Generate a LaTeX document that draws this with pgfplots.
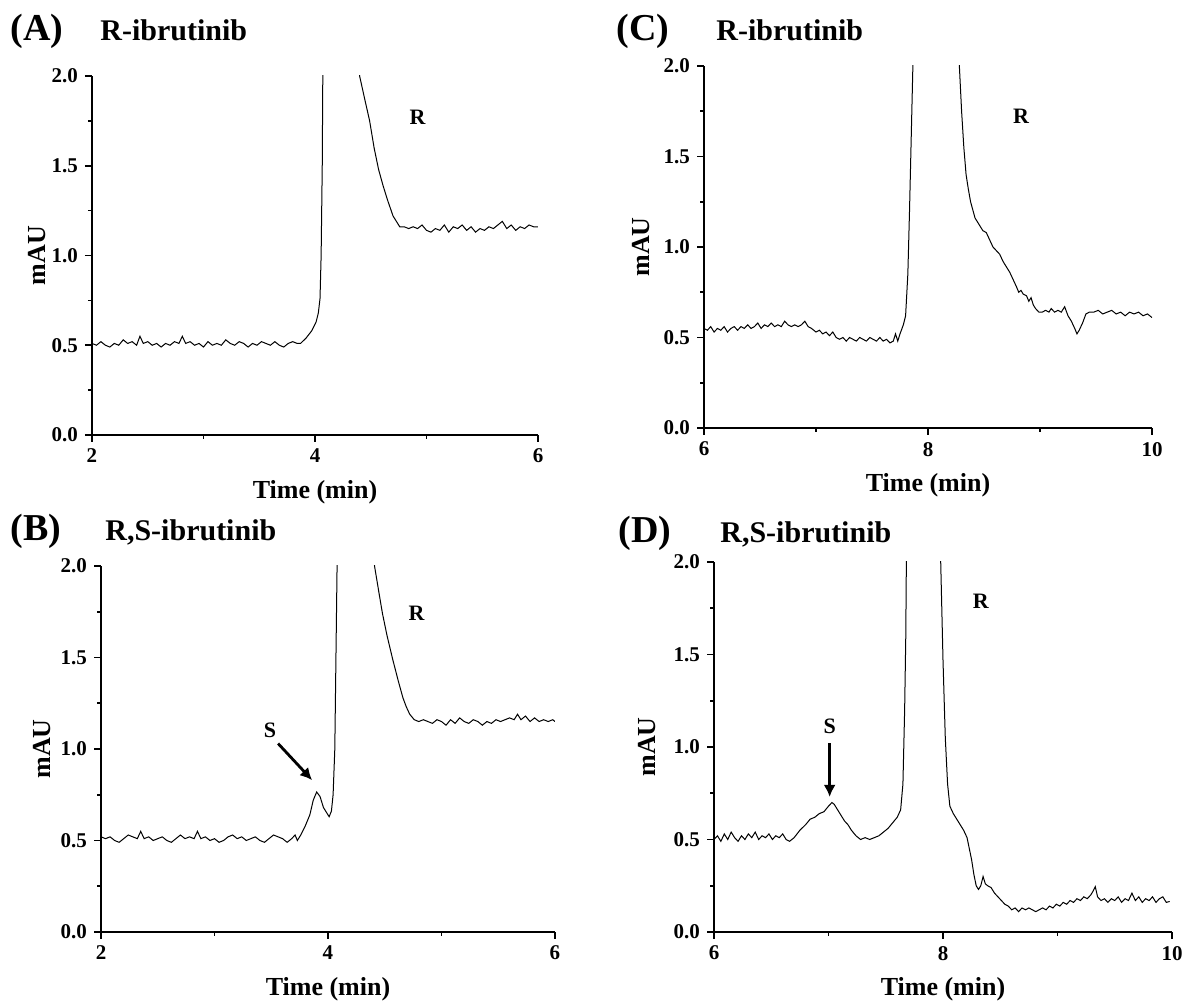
\documentclass[border=0pt]{standalone}
\usepackage{fontspec}
\setmainfont{Liberation Serif}
\usepackage{pgfplots}
\pgfplotsset{compat=1.18}
\usetikzlibrary{arrows.meta}

% shared look of the four chromatogram panels
\pgfplotsset{
  chrom/.style={
    scale only axis,
    anchor=south west,
    axis lines=left,
    axis line style={-, line width=0.8pt},
    tick align=outside,
    every tick/.style={black, line width=0.8pt},
    major tick length=3.5pt,
    minor tick length=2pt,
    minor x tick num=1,
    minor y tick num=1,
    ymin=0, ymax=2,
    ytick={0,0.5,1,1.5,2},
    /pgf/number format/assume math mode=true,
    tick label style={font=\bfseries\fontsize{10.5}{12}\selectfont},
    yticklabel style={/pgf/number format/fixed, /pgf/number format/fixed zerofill,
      /pgf/number format/precision=1},
    xlabel={Time (min)},
    ylabel={mAU},
    label style={font=\bfseries\fontsize{13}{15}\selectfont},
    xlabel style={at={(axis description cs:0.5,0)}, anchor=base, yshift=-32pt},
  },
  trace/.style={black, line width=0.5pt, no marks},
}
\newcommand{\paneltag}{\bfseries\fontsize{19}{21}\selectfont}
\newcommand{\paneltitle}{\bfseries\fontsize{15}{17}\selectfont}
\newcommand{\peaklbl}{\bfseries\fontsize{11}{13}\selectfont}

\begin{document}
\begin{tikzpicture}
\useasboundingbox (0,0) rectangle (592pt,502.5pt);

% ---------------- (A) ----------------
\begin{axis}[chrom, at={(46pt,285pt)}, width=223pt, height=179.5pt,
  xmin=2, xmax=6, xtick={2,4,6},
  ylabel style={at={(axis description cs:-0.105,0.5)}, anchor=base}]
\addplot[trace] table {
2.00 0.51
2.04 0.50
2.08 0.52
2.12 0.50
2.16 0.49
2.20 0.51
2.24 0.50
2.28 0.53
2.32 0.51
2.36 0.52
2.40 0.50
2.43 0.55
2.46 0.51
2.50 0.52
2.54 0.50
2.58 0.51
2.62 0.49
2.66 0.51
2.70 0.50
2.74 0.52
2.78 0.51
2.81 0.55
2.84 0.51
2.88 0.52
2.92 0.50
2.96 0.51
3.00 0.49
3.04 0.52
3.08 0.50
3.12 0.51
3.16 0.50
3.20 0.53
3.24 0.51
3.28 0.50
3.32 0.52
3.36 0.51
3.40 0.49
3.44 0.51
3.48 0.50
3.52 0.52
3.56 0.51
3.60 0.50
3.64 0.52
3.68 0.50
3.72 0.49
3.76 0.51
3.80 0.52
3.84 0.51
3.87 0.51
3.92 0.54
3.97 0.58
4.01 0.63
4.03 0.68
4.045 0.76
4.055 1.00
4.065 1.50
4.07 2.00
4.08 3.00
4.20 12.0
4.38 2.20
4.40 2.00
4.45 1.86
4.49 1.75
4.53 1.60
4.57 1.48
4.61 1.39
4.65 1.31
4.70 1.22
4.73 1.19
4.76 1.16
4.80 1.16
4.84 1.15
4.88 1.16
4.92 1.15
4.96 1.17
5.00 1.14
5.04 1.13
5.08 1.15
5.12 1.14
5.16 1.17
5.20 1.13
5.24 1.16
5.28 1.15
5.32 1.17
5.36 1.14
5.40 1.16
5.44 1.13
5.48 1.15
5.52 1.14
5.56 1.16
5.60 1.15
5.64 1.17
5.68 1.19
5.72 1.15
5.76 1.17
5.80 1.14
5.84 1.16
5.88 1.15
5.92 1.17
5.96 1.16
6.00 1.16
};
\node[font=\peaklbl] at (axis cs:4.92,1.77) {R};
\end{axis}

% ---------------- (B) ----------------
\begin{axis}[chrom, at={(50.5pt,36.5pt)}, width=227pt, height=183pt,
  xmin=2, xmax=6, xtick={2,4,6},
  ylabel style={at={(axis description cs:-0.112,0.5)}, anchor=base}]
\addplot[trace] table {
2.00 0.52
2.04 0.51
2.08 0.52
2.12 0.50
2.16 0.49
2.20 0.51
2.24 0.53
2.28 0.52
2.32 0.51
2.35 0.55
2.38 0.51
2.42 0.52
2.46 0.50
2.50 0.51
2.54 0.52
2.58 0.50
2.62 0.49
2.66 0.51
2.70 0.53
2.74 0.51
2.78 0.52
2.82 0.51
2.85 0.55
2.88 0.51
2.92 0.52
2.96 0.50
3.00 0.51
3.04 0.49
3.08 0.50
3.12 0.52
3.16 0.53
3.20 0.51
3.24 0.52
3.28 0.50
3.32 0.51
3.36 0.52
3.40 0.50
3.44 0.49
3.48 0.51
3.52 0.53
3.56 0.52
3.60 0.51
3.64 0.49
3.68 0.51
3.71 0.53
3.73 0.50
3.76 0.53
3.80 0.58
3.84 0.64
3.87 0.72
3.90 0.765
3.93 0.74
3.96 0.68
3.99 0.65
4.01 0.63
4.03 0.66
4.045 0.75
4.06 1.00
4.07 1.50
4.08 2.00
4.09 3.00
4.22 12.0
4.39 2.20
4.41 2.00
4.45 1.85
4.48 1.74
4.52 1.62
4.57 1.49
4.62 1.37
4.66 1.28
4.69 1.23
4.72 1.19
4.76 1.16
4.80 1.15
4.84 1.16
4.88 1.15
4.92 1.14
4.96 1.16
5.00 1.15
5.04 1.13
5.08 1.16
5.12 1.14
5.16 1.17
5.20 1.15
5.24 1.14
5.28 1.16
5.32 1.15
5.36 1.13
5.40 1.15
5.44 1.14
5.48 1.16
5.52 1.15
5.56 1.16
5.60 1.17
5.64 1.16
5.67 1.19
5.70 1.16
5.74 1.18
5.78 1.15
5.82 1.17
5.86 1.15
5.90 1.16
5.94 1.15
5.98 1.16
6.00 1.15
};
\node[font=\peaklbl] at (axis cs:4.78,1.74) {R};
\node[font=\peaklbl] at (axis cs:3.49,1.10) {S};
\draw[-{Latex[length=6pt,width=6pt]}, line width=1.4pt]
  (axis cs:3.56,1.03) -- (axis cs:3.86,0.83);
\end{axis}

% ---------------- (C) ----------------
\begin{axis}[chrom, at={(352pt,288.5pt)}, width=224pt, height=181pt,
  xmin=6, xmax=10, xtick={6,8,10},
  ylabel style={at={(axis description cs:-0.122,0.5)}, anchor=base}]
\addplot[trace] table {
6.00 0.55
6.03 0.54
6.06 0.56
6.09 0.53
6.12 0.55
6.15 0.54
6.18 0.56
6.21 0.53
6.24 0.55
6.27 0.56
6.30 0.54
6.33 0.56
6.36 0.55
6.39 0.57
6.42 0.55
6.45 0.56
6.48 0.58
6.51 0.55
6.54 0.57
6.57 0.56
6.60 0.58
6.63 0.56
6.66 0.57
6.69 0.56
6.72 0.59
6.75 0.57
6.78 0.56
6.81 0.57
6.84 0.56
6.87 0.57
6.90 0.59
6.93 0.56
6.96 0.55
7.00 0.53
7.03 0.54
7.06 0.52
7.09 0.53
7.12 0.51
7.15 0.53
7.18 0.50
7.21 0.49
7.24 0.50
7.27 0.48
7.30 0.50
7.33 0.49
7.36 0.48
7.39 0.50
7.42 0.49
7.45 0.48
7.48 0.50
7.51 0.49
7.54 0.48
7.57 0.50
7.60 0.48
7.63 0.49
7.66 0.47
7.69 0.48
7.71 0.52
7.73 0.48
7.75 0.52
7.78 0.57
7.80 0.62
7.82 0.85
7.835 1.20
7.85 1.60
7.865 2.00
7.88 3.00
8.05 15.0
8.26 2.30
8.28 2.00
8.30 1.75
8.32 1.55
8.34 1.40
8.36 1.32
8.38 1.25
8.42 1.16
8.46 1.12
8.49 1.09
8.52 1.08
8.55 1.04
8.58 1.00
8.61 0.98
8.64 0.96
8.67 0.92
8.70 0.89
8.73 0.86
8.76 0.82
8.79 0.78
8.81 0.75
8.83 0.76
8.85 0.74
8.88 0.73
8.90 0.70
8.92 0.72
8.94 0.68
8.96 0.66
8.99 0.64
9.02 0.64
9.05 0.65
9.08 0.64
9.10 0.66
9.13 0.64
9.16 0.65
9.19 0.64
9.22 0.67
9.25 0.62
9.28 0.59
9.31 0.55
9.33 0.52
9.35 0.54
9.38 0.58
9.41 0.63
9.44 0.64
9.48 0.64
9.52 0.65
9.56 0.63
9.60 0.64
9.64 0.65
9.68 0.63
9.72 0.64
9.76 0.62
9.80 0.64
9.84 0.63
9.88 0.64
9.92 0.62
9.96 0.63
10.00 0.61
};
\node[font=\peaklbl] at (axis cs:8.83,1.72) {R};
\end{axis}

% ---------------- (D) ----------------
\begin{axis}[chrom, at={(357pt,36.5pt)}, width=229pt, height=185pt,
  xmin=6, xmax=10, xtick={6,8,10},
  ylabel style={at={(axis description cs:-0.128,0.5)}, anchor=base}]
\addplot[trace] table {
6.00 0.50
6.03 0.52
6.06 0.49
6.09 0.53
6.12 0.50
6.15 0.54
6.18 0.51
6.21 0.49
6.24 0.52
6.27 0.50
6.30 0.53
6.33 0.51
6.36 0.54
6.39 0.50
6.42 0.52
6.45 0.51
6.48 0.53
6.51 0.50
6.54 0.52
6.57 0.51
6.60 0.53
6.63 0.50
6.66 0.49
6.70 0.51
6.75 0.55
6.80 0.58
6.84 0.61
6.88 0.62
6.92 0.64
6.96 0.65
7.00 0.68
7.03 0.70
7.05 0.69
7.08 0.66
7.11 0.63
7.14 0.60
7.17 0.58
7.20 0.55
7.24 0.52
7.28 0.50
7.32 0.51
7.36 0.50
7.40 0.51
7.44 0.52
7.48 0.54
7.52 0.56
7.56 0.59
7.60 0.62
7.63 0.66
7.65 0.80
7.665 1.20
7.675 1.60
7.68 2.00
7.70 3.00
7.83 18.0
7.96 2.30
7.98 2.00
8.00 1.47
8.02 1.05
8.04 0.80
8.06 0.68
8.09 0.64
8.12 0.61
8.15 0.58
8.18 0.55
8.21 0.51
8.23 0.45
8.25 0.39
8.27 0.31
8.29 0.25
8.31 0.23
8.33 0.25
8.35 0.30
8.37 0.26
8.39 0.25
8.42 0.24
8.45 0.21
8.48 0.19
8.51 0.17
8.54 0.15
8.57 0.14
8.60 0.12
8.63 0.13
8.66 0.11
8.69 0.13
8.72 0.12
8.75 0.13
8.78 0.12
8.81 0.11
8.84 0.12
8.87 0.13
8.90 0.12
8.93 0.14
8.96 0.13
8.99 0.15
9.02 0.14
9.05 0.16
9.08 0.15
9.11 0.17
9.14 0.16
9.17 0.18
9.20 0.17
9.23 0.19
9.26 0.18
9.29 0.20
9.31 0.22
9.33 0.245
9.35 0.19
9.38 0.17
9.41 0.18
9.44 0.16
9.47 0.18
9.50 0.17
9.53 0.19
9.56 0.16
9.59 0.18
9.62 0.17
9.65 0.21
9.68 0.17
9.71 0.19
9.74 0.16
9.77 0.18
9.80 0.17
9.83 0.19
9.86 0.16
9.89 0.18
9.92 0.19
9.95 0.16
9.98 0.165
};
\node[font=\peaklbl] at (axis cs:8.33,1.79) {R};
\node[font=\peaklbl] at (axis cs:7.01,1.11) {S};
\draw[-{Latex[length=6pt,width=6pt]}, line width=1.4pt]
  (axis cs:7.01,1.02) -- (axis cs:7.01,0.73);
\end{axis}

% panel tags and titles
\node[anchor=base west, inner sep=0pt, font=\paneltag] at (5pt,482pt) {(A)};
\node[anchor=base west, inner sep=0pt, font=\paneltitle] at (50pt,482pt) {R-ibrutinib};
\node[anchor=base west, inner sep=0pt, font=\paneltag] at (5pt,232pt) {(B)};
\node[anchor=base west, inner sep=0pt, font=\paneltitle] at (52.5pt,232pt) {R,S-ibrutinib};
\node[anchor=base west, inner sep=0pt, font=\paneltag] at (308pt,482pt) {(C)};
\node[anchor=base west, inner sep=0pt, font=\paneltitle] at (358pt,482pt) {R-ibrutinib};
\node[anchor=base west, inner sep=0pt, font=\paneltag] at (309pt,231pt) {(D)};
\node[anchor=base west, inner sep=0pt, font=\paneltitle] at (360pt,231pt) {R,S-ibrutinib};
\end{tikzpicture}
\end{document}
